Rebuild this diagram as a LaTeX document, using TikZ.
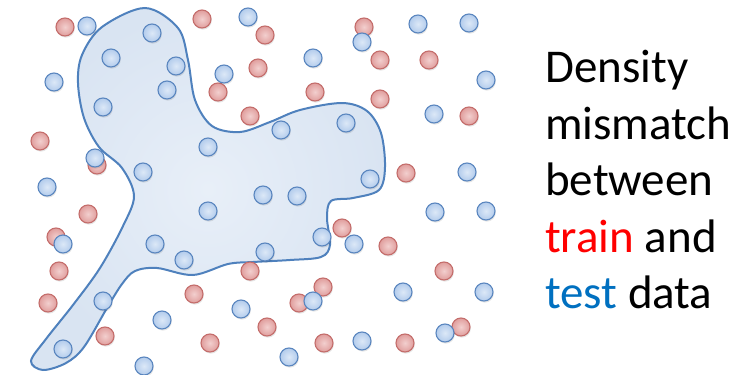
\documentclass[tikz,border=0pt]{standalone}
\usepackage{fontspec}
\setmainfont{Carlito}
\definecolor{blobline}{HTML}{4F81BD}
\definecolor{blobfill}{HTML}{D9E4F2}
\definecolor{blobin}{HTML}{E8EFF8}
\definecolor{bluedot}{HTML}{B3CCEC}
\definecolor{bluedotin}{HTML}{DCE8F7}
\definecolor{bluedotline}{HTML}{5A86BF}
\definecolor{reddot}{HTML}{E09E9D}
\definecolor{reddotin}{HTML}{F2CFCE}
\definecolor{reddotline}{HTML}{C46D6B}
\definecolor{trainred}{HTML}{FF0000}
\definecolor{testblue}{HTML}{0070C0}
\tikzset{
  dotbase/.style={circle, minimum size=18pt, inner sep=0pt, line width=1.1pt},
  bdot/.style={dotbase, draw=bluedotline, inner color=bluedotin, outer color=bluedot},
  rdot/.style={dotbase, draw=reddotline, inner color=reddotin, outer color=reddot},
  shadowdot/.style={circle, minimum size=18pt, inner sep=0pt, fill=black, fill opacity=0.10},
  blob/.style={draw=blobline, line width=2pt, inner color=blobin, outer color=blobfill},
  caption/.style={anchor=north west, align=left, font=\fontsize{47}{56.5}\selectfont, inner sep=0pt}
}
\begin{document}
\begin{tikzpicture}[x=1pt,y=-1pt]
\useasboundingbox (0,0) rectangle (753,375);
\fill[white] (0,0) rectangle (753,375);
% blob
\path[blob] plot[smooth cycle, tension=0.55] coordinates {
 (145,8) (178,28) (188,60) (195,100) (212,126) (240,132) (270,122) (300,110)
 (342,103) (367,111) (381,133) (385,167) (379,190) (353,198) (331,201) (327,218)
 (330,245) (321,257) (290,260) (253,262) (228,264) (193,275) (157,268) (135,271)
 (122,284) (107,308) (84,347) (66,363) (43,370) (31,361) (46,339) (73,305)
 (100,268) (123,226) (134,196) (122,168) (99,147) (84,118) (78,83) (82,55) (102,27)
};
% red dots
\foreach \x/\y [count=\i] in {65/27,202/19,265/35,258/68,218/92,250/116,40/141,97/165,
 364/27,380/60,429/60,315/92,380/99,469/116,406/173,88/214,56/237,59/271,250/271,
 48/303,194/294,105/336,267/327,210/343,342/228,388/246,444/271,323/287,299/303,
 461/327,324/343,405/343}{
  \node[shadowdot] (rs\i) at (\x+0.8,\y+1.6) {};
  \node[rdot] (r\i) at (\x,\y) {};
}
% blue dots
\foreach \x/\y [count=\i] in {87/26,152/33,248/17,111/58,176/66,224/74,54/82,167/90,
 103/107,208/147,95/158,143/172,47/187,362/42,418/24,469/23,313/58,486/80,434/114,
 281/130,346/123,467/172,370/179,208/211,263/195,297/196,63/244,155/244,184/260,
 265/252,103/301,241/309,162/320,63/349,144/366,435/212,486/211,322/237,354/244,
 313/301,403/292,484/292,445/333,362/341,289/357}{
  \node[shadowdot] (bs\i) at (\x+0.8,\y+1.6) {};
  \node[bdot] (b\i) at (\x,\y) {};
}
% caption
\node[caption] (cap) at (545,50) {Density\\mismatch\\between\\\textcolor{trainred}{train} and\\\textcolor{testblue}{test} data};
\end{tikzpicture}
\end{document}
